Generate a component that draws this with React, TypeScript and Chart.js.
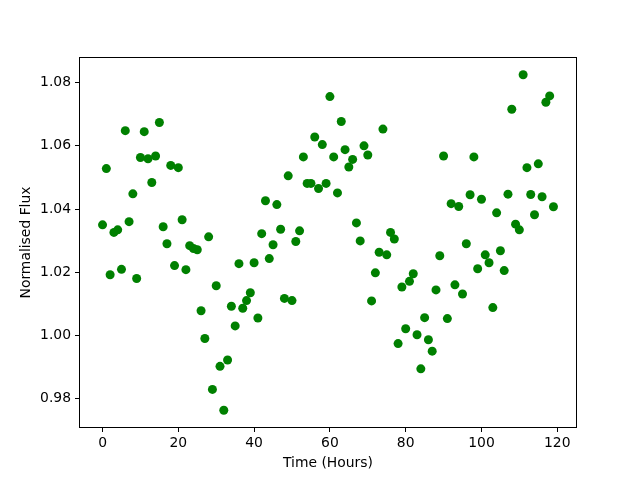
import React, { useEffect, useRef } from "react";
import { Chart, registerables } from "chart.js";

Chart.register(...registerables);

const hours: number[] = [
  0, 1, 2, 3, 4, 5, 6, 7, 8, 9, 10, 11, 12, 13, 14, 15, 16, 17, 18, 19,
  20, 21, 22, 23, 24, 25, 26, 27, 28, 29, 30, 31, 32, 33, 34, 35, 36, 37, 38, 39,
  40, 41, 42, 43, 44, 45, 46, 47, 48, 49, 50, 51, 52, 53, 54, 55, 56, 57, 58, 59,
  60, 61, 62, 63, 64, 65, 66, 67, 68, 69, 70, 71, 72, 73, 74, 75, 76, 77, 78, 79,
  80, 81, 82, 83, 84, 85, 86, 87, 88, 89, 90, 91, 92, 93, 94, 95, 96, 97, 98, 99,
  100, 101, 102, 103, 104, 105, 106, 107, 108, 109, 110, 111, 112, 113, 114, 115, 116, 117, 118, 119,
];

const flux: number[] = [
  1.035, 1.0528, 1.0192, 1.0326, 1.0334, 1.0209, 1.0648, 1.036, 1.0448, 1.018,
  1.0563, 1.0645, 1.0559, 1.0484, 1.0568, 1.0674, 1.0344, 1.029, 1.0538, 1.0221,
  1.0531, 1.0366, 1.0208, 1.0284, 1.0275, 1.0271, 1.0078, 0.999, 1.0312, 0.9829,
  1.0157, 0.9902, 0.9763, 0.9922, 1.0092, 1.003, 1.0227, 1.0086, 1.011, 1.0135,
  1.023, 1.0055, 1.0322, 1.0426, 1.0243, 1.0287, 1.0414, 1.0336, 1.0117, 1.0505,
  1.011, 1.0297, 1.0331, 1.0565, 1.0481, 1.0481, 1.0628, 1.0465, 1.0604, 1.0481,
  1.0756, 1.0565, 1.0451, 1.0677, 1.0588, 1.0533, 1.0557, 1.0356, 1.0299, 1.06,
  1.0571, 1.0109, 1.0198, 1.0263, 1.0653, 1.0255, 1.0326, 1.0305, 0.9974, 1.0153,
  1.0021, 1.0171, 1.0195, 1.0002, 0.9894, 1.0056, 0.9986, 0.995, 1.0144, 1.0252,
  1.0568, 1.0053, 1.0417, 1.016, 1.0408, 1.0131, 1.029, 1.0445, 1.0565, 1.0211,
  1.0431, 1.0255, 1.023, 1.0088, 1.0388, 1.0268, 1.0205, 1.0447, 1.0716, 1.0352,
  1.0334, 1.0825, 1.0531, 1.0446, 1.0382, 1.0543, 1.0439, 1.0738, 1.0758, 1.0407,
];

const xTicks: number[] = [0, 20, 40, 60, 80, 100, 120];
const yTicks: number[] = [0.98, 1.0, 1.02, 1.04, 1.06, 1.08];

const xLabel = "Time (Hours)";
const yLabel = "Normalised Flux";

const FONT = "'DejaVu Sans', sans-serif";

const frame = {
  id: "frame",
  afterDraw(chart: any) {
    const { ctx, chartArea } = chart;
    ctx.save();
    ctx.strokeStyle = "#000";
    ctx.lineWidth = 1;
    ctx.strokeRect(
      Math.round(chartArea.left) - 0.5,
      Math.round(chartArea.top) - 0.5,
      Math.round(chartArea.right - chartArea.left) + 1,
      Math.round(chartArea.bottom - chartArea.top) + 1
    );
    ctx.restore();
  },
};

export default function App() {
  const ref = useRef<HTMLCanvasElement>(null);

  useEffect(() => {
    if (!ref.current) return;
    const xMinD = Math.min(...hours);
    const xMaxD = Math.max(...hours);
    const yMinD = Math.min(...flux);
    const yMaxD = Math.max(...flux);
    const xm = (xMaxD - xMinD) * 0.05;
    const ym = (yMaxD - yMinD) * 0.05;

    const chart = new Chart(ref.current, {
      type: "scatter",
      data: {
        datasets: [
          {
            data: hours.map((h, i) => ({ x: h, y: flux[i] })),
            backgroundColor: "#008000",
            borderColor: "#008000",
            pointRadius: 4.5,
            pointBorderWidth: 0,
          },
        ],
      },
      options: {
        animation: false,
        responsive: false,
        layout: { padding: { left: 0, right: 64, top: 58, bottom: 0 } },
        plugins: {
          legend: { display: false },
          tooltip: { enabled: false },
        },
        scales: {
          x: {
            type: "linear",
            min: xMinD - xm,
            max: xMaxD + xm,
            afterBuildTicks: (s: any) => {
              s.ticks = xTicks.map((v) => ({ value: v }));
            },
            afterFit: (s: any) => {
              s.height = 53;
            },
            ticks: {
              color: "#000",
              font: { family: FONT, size: 13.9 },
              padding: 3,
              maxRotation: 0,
              callback: (v: any) => String(v),
            },
            grid: {
              drawOnChartArea: false,
              drawTicks: true,
              tickLength: 5,
              tickColor: "#000",
              tickWidth: 1,
            },
            border: { display: false },
            title: {
              display: true,
              text: xLabel,
              color: "#000",
              font: { family: FONT, size: 13.9 },
              padding: { top: 0, bottom: 8 },
            },
          },
          y: {
            type: "linear",
            min: yMinD - ym,
            max: yMaxD + ym,
            afterBuildTicks: (s: any) => {
              s.ticks = yTicks.map((v) => ({ value: v }));
            },
            afterFit: (s: any) => {
              s.width = 80;
            },
            ticks: {
              color: "#000",
              font: { family: FONT, size: 13.9 },
              padding: 4,
              callback: (v: any) => Number(v).toFixed(2),
            },
            grid: {
              drawOnChartArea: false,
              drawTicks: true,
              tickLength: 5,
              tickColor: "#000",
              tickWidth: 1,
            },
            border: { display: false },
            title: {
              display: true,
              text: yLabel,
              color: "#000",
              font: { family: FONT, size: 13.9 },
              padding: { top: 18, bottom: 0 },
            },
          },
        },
      },
      plugins: [frame],
    });
    return () => chart.destroy();
  }, []);

  return (
    <div style={{ position: "fixed", left: 0, top: 0, width: 640, height: 480, background: "#fff" }}>
      <canvas ref={ref} width={640} height={480} />
    </div>
  );
}
